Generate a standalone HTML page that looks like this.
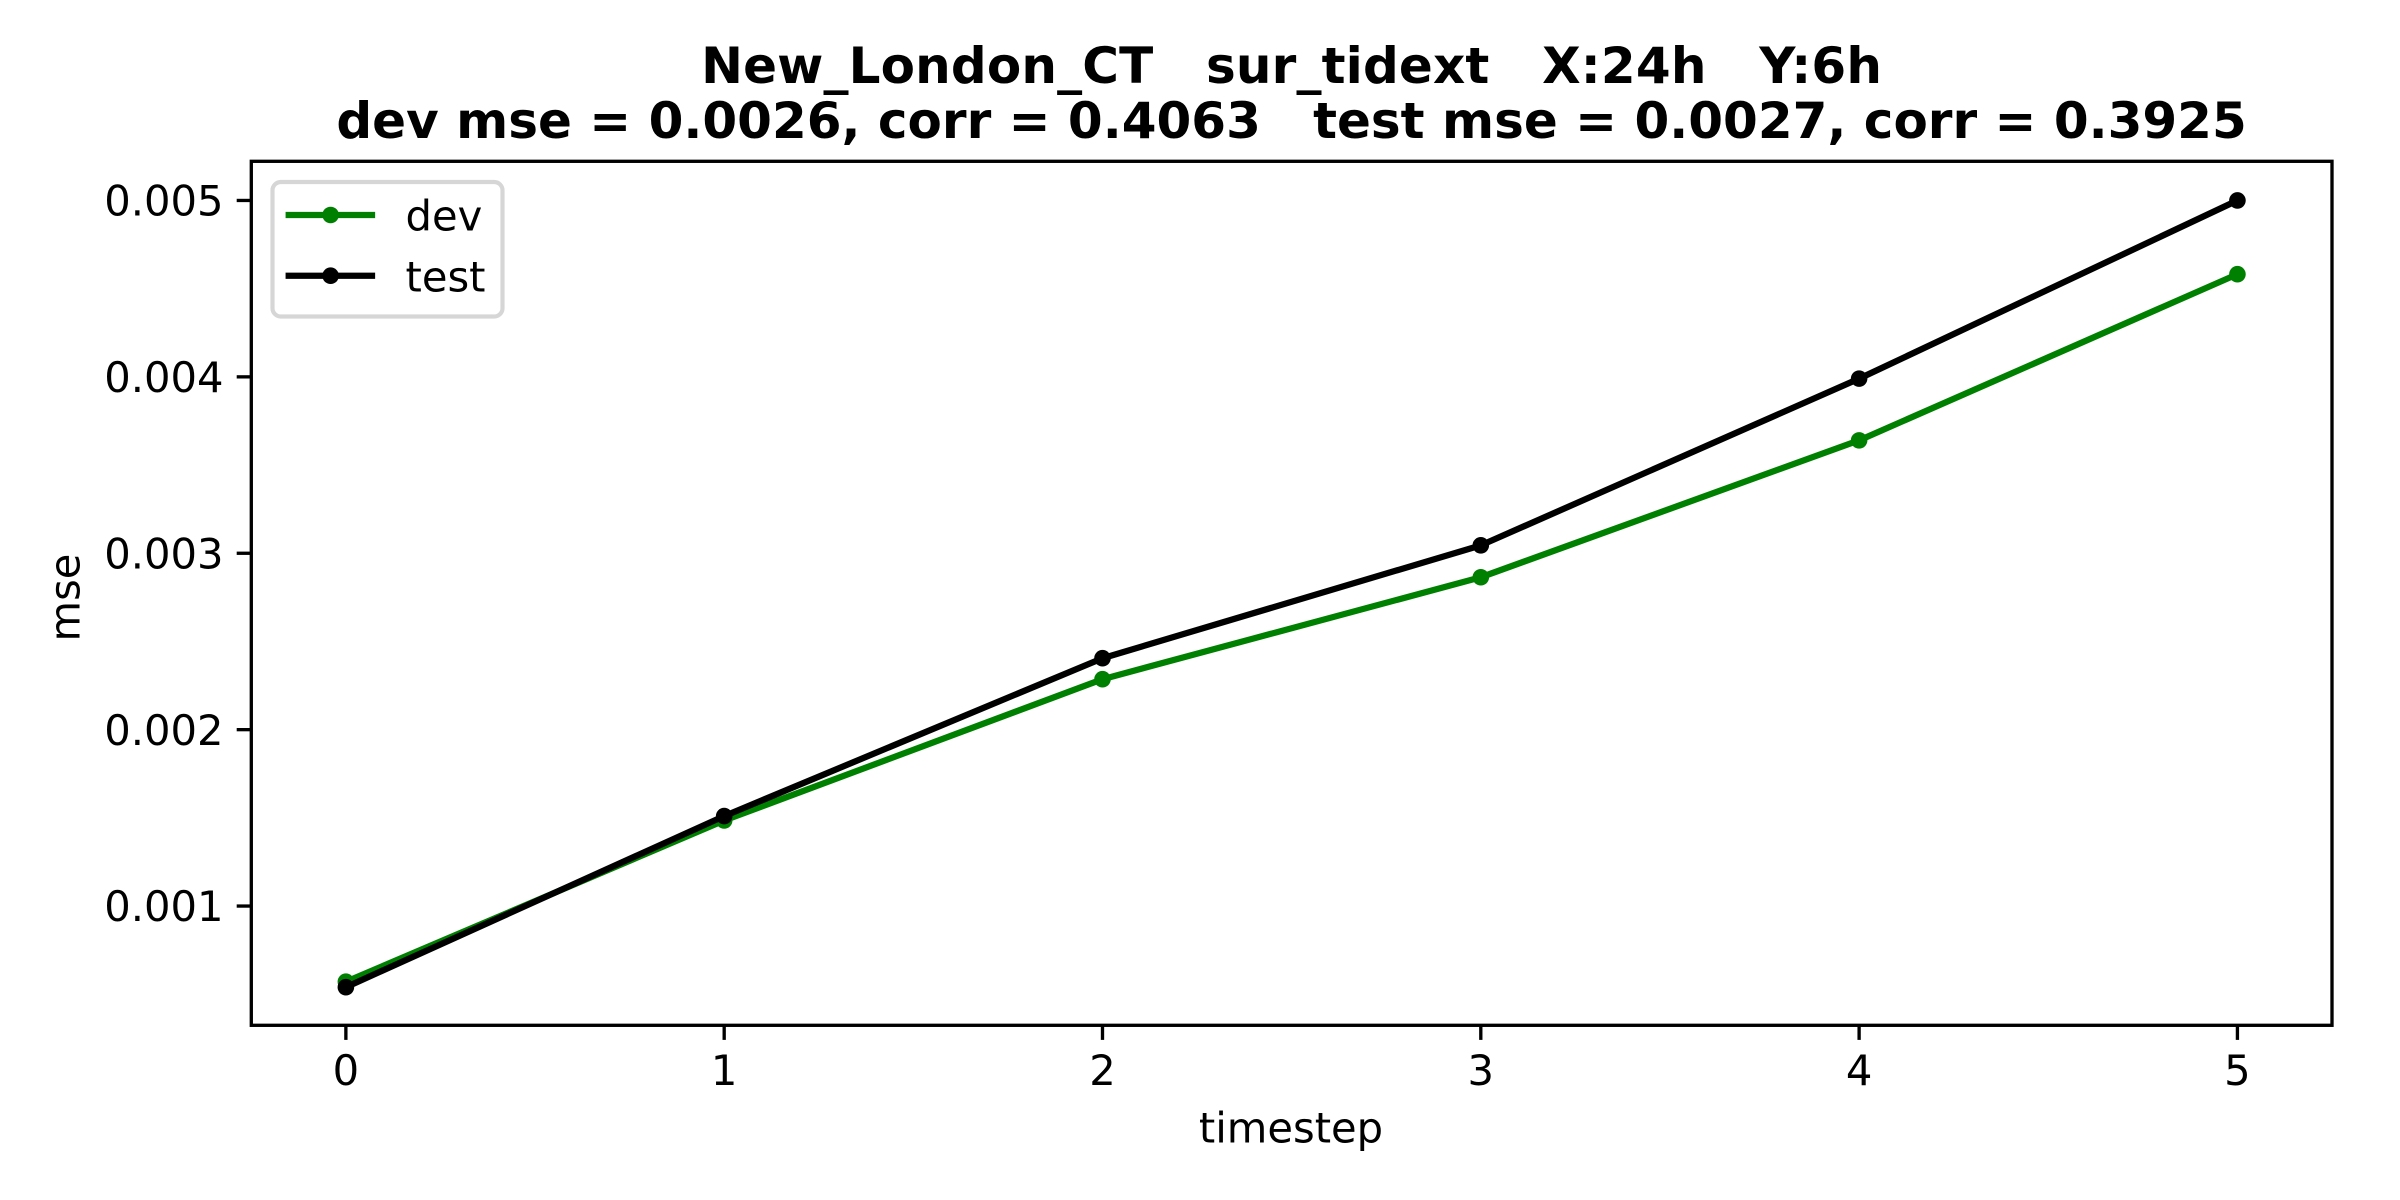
<!DOCTYPE html>
<html lang="en">
<head>
<meta charset="utf-8">
<title>New_London_CT sur_tidext</title>
<style>
html,body{margin:0;padding:0;background:#fff;width:2400px;height:1200px;overflow:hidden}
svg{display:block}
text{font-family:"DejaVu Sans",sans-serif;fill:#000;white-space:pre}
.tick-text{font-size:41.67px}
.title-text{font-size:50px;font-weight:bold}
</style>
</head>
<body>
<svg id="chart" xmlns="http://www.w3.org/2000/svg" width="2400" height="1200" viewBox="0 0 2400 1200">
  <rect x="0" y="0" width="2400" height="1200" fill="#fff"/>
  <g>
    <text class="title-text" x="1291.6" y="83" text-anchor="middle" letter-spacing="0.15" xml:space="preserve">New_London_CT   sur_tidext   X:24h   Y:6h</text>
    <text class="title-text" x="1291.6" y="138" text-anchor="middle" xml:space="preserve">dev mse = 0.0026, corr = 0.4063   test mse = 0.0027, corr = 0.3925</text>
  </g>
  <g id="ticks"></g>
  <g id="series"></g>
  <rect x="251.3" y="161.3" width="2080.7" height="864" fill="none" stroke="#000" stroke-width="3.33"/>
  <text class="tick-text" x="1291" y="1142.7" text-anchor="middle">timestep</text>
  <text class="tick-text" x="79.3" y="597.5" text-anchor="middle" transform="rotate(-90 79.3 597.5)">mse</text>
  <g>
    <rect x="272.5" y="182" width="230" height="134.5" rx="8.3" ry="8.3" fill="#fff" fill-opacity="0.8" stroke="#d6d6d6" stroke-width="4.17"/>
    <g>
      <line x1="288.7" y1="215" x2="372" y2="215" stroke="#008000" stroke-width="6.25" stroke-linecap="square"/>
      <circle cx="330.6" cy="215" r="8.3" fill="#008000"/>
      <text class="tick-text" x="405.5" y="230.5">dev</text>
    </g>
    <g>
      <line x1="288.7" y1="275.7" x2="372" y2="275.7" stroke="#000" stroke-width="6.25" stroke-linecap="square"/>
      <circle cx="330.6" cy="275.7" r="8.3" fill="#000"/>
      <text class="tick-text" x="405.5" y="291.5">test</text>
    </g>
  </g>
</svg>
<script>
const timesteps = [0, 1, 2, 3, 4, 5];
const devMse = [0.000571, 0.001485, 0.002286, 0.002864, 0.00364, 0.004582];
const testMse = [0.00054, 0.00151, 0.002405, 0.003045, 0.00399, 0.005];
const xTickLabels = ['0', '1', '2', '3', '4', '5'];
const yTickLabels = ['0.001', '0.002', '0.003', '0.004', '0.005'];

const SVG_NS = 'http://www.w3.org/2000/svg';
const plot = { left: 251.3, right: 2332, top: 161.3, bottom: 1025.3 };
const xDomain = [-0.25, 5.25];
const yDomain = [0.000324, 0.005222];

function xScale(v) {
  return plot.left + (v - xDomain[0]) / (xDomain[1] - xDomain[0]) * (plot.right - plot.left);
}
function yScale(v) {
  return plot.bottom - (v - yDomain[0]) / (yDomain[1] - yDomain[0]) * (plot.bottom - plot.top);
}
function make(tag, parent, attrs) {
  const el = document.createElementNS(SVG_NS, tag);
  for (const k in attrs) el.setAttribute(k, attrs[k]);
  parent.appendChild(el);
  return el;
}

const tickLayer = document.getElementById('ticks');
xTickLabels.forEach(function (label) {
  const x = xScale(Number(label));
  const tick = make('line', tickLayer, { x1: x, y1: plot.bottom, x2: x, y2: plot.bottom + 14.6, stroke: '#000', 'stroke-width': 3.33 });
  
  
  const text = make('text', tickLayer, { class: 'tick-text', x: x, y: 1085, 'text-anchor': 'middle' });
  text.textContent = label;
  
  
});
yTickLabels.forEach(function (label) {
  const y = yScale(Number(label));
  const tick = make('line', tickLayer, { x1: plot.left - 14.6, y1: y, x2: plot.left, y2: y, stroke: '#000', 'stroke-width': 3.33 });
  
  
  const text = make('text', tickLayer, { class: 'tick-text', x: 223.5, y: y + 15.1, 'text-anchor': 'end' });
  text.textContent = label;
  
  
});

function drawSeries(name, values, color) {
  const layer = document.getElementById('series');
  const points = values.map(function (v, i) {
    return xScale(timesteps[i]).toFixed(2) + ',' + yScale(v).toFixed(2);
  }).join(' ');
  const line = make('polyline', layer, { points: points, fill: 'none', stroke: color, 'stroke-width': 6.25, 'stroke-linejoin': 'round', 'stroke-linecap': 'square' });
  
  
  values.forEach(function (v, i) {
    const dot = make('circle', layer, { cx: xScale(timesteps[i]), cy: yScale(v), r: 8.3, fill: color });
    
    
  });
}
drawSeries('dev', devMse, '#008000');
drawSeries('test', testMse, '#000000');
</script>
</body>
</html>
